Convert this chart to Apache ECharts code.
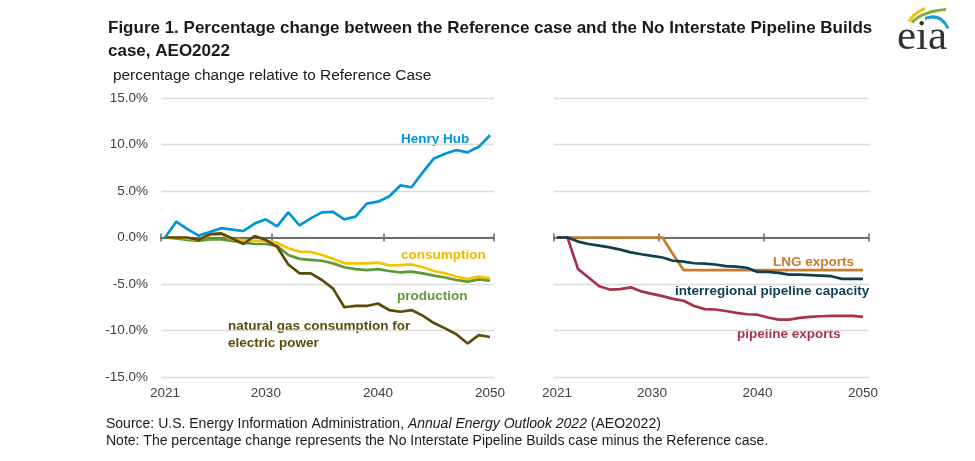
<!DOCTYPE html>
<html>
<head>
<meta charset="utf-8">
<script src="https://cdn.jsdelivr.net/npm/echarts@6/dist/echarts.min.js"></script>
<style>
html,body{margin:0;padding:0;background:#fff;}
#chart{width:975px;height:461px;}
</style>
</head>
<body>
<div id="chart"></div>
<script>
// ---- data ----
const years = [];
for (let y = 2021; y <= 2050; y++) years.push(y);

const henryHub = [0.0,1.7,0.9,0.2,0.6,1.0,0.85,0.7,1.5,1.95,1.2,2.7,1.3,2.05,2.7,2.75,1.95,2.25,3.65,3.85,4.4,5.6,5.4,7.0,8.5,9.0,9.4,9.15,9.75,11.0];
const consumption = [0.0,0.0,-0.1,-0.27,0.27,0.34,-0.2,-0.27,-0.34,-0.37,-0.55,-1.16,-1.52,-1.56,-1.88,-2.3,-2.78,-2.78,-2.78,-2.7,-3.0,-2.96,-2.9,-3.2,-3.6,-3.85,-4.2,-4.46,-4.2,-4.4];
const production = [0.0,-0.1,-0.27,-0.37,-0.2,-0.2,-0.37,-0.55,-0.7,-0.7,-0.9,-1.88,-2.3,-2.4,-2.5,-2.78,-3.2,-3.4,-3.5,-3.4,-3.6,-3.75,-3.67,-3.85,-4.1,-4.3,-4.57,-4.75,-4.5,-4.64];
const electricPower = [0.0,0.0,0.0,-0.27,0.37,0.45,-0.1,-0.7,0.16,-0.27,-1.0,-2.9,-3.85,-3.85,-4.57,-5.5,-7.5,-7.36,-7.36,-7.1,-7.8,-7.98,-7.8,-8.4,-9.2,-9.77,-10.4,-11.4,-10.5,-10.7];

const lngExports = [0,0,0,0,0,0,0,0,0,0,0,-1.8,-3.5,-3.5,-3.5,-3.5,-3.5,-3.5,-3.5,-3.5,-3.5,-3.5,-3.5,-3.5,-3.5,-3.5,-3.5,-3.5,-3.5,-3.5];
const interregional = [0,0,-0.44,-0.7,-0.88,-1.06,-1.3,-1.6,-1.8,-1.97,-2.15,-2.5,-2.6,-2.77,-2.8,-2.9,-3.07,-3.14,-3.25,-3.7,-3.7,-3.8,-4.0,-4.0,-4.05,-4.1,-4.16,-4.45,-4.45,-4.45];
const pipelineExports = [0,0,-3.4,-4.3,-5.25,-5.6,-5.55,-5.36,-5.8,-6.06,-6.3,-6.6,-6.8,-7.37,-7.7,-7.74,-7.9,-8.1,-8.25,-8.3,-8.6,-8.83,-8.83,-8.65,-8.54,-8.47,-8.43,-8.43,-8.43,-8.54];

const xTickLabels = [2021, 2030, 2040, 2050];

const titleText = 'Figure 1. Percentage change between the Reference case and the No Interstate Pipeline Builds\ncase, AEO2022';
const unitText = 'percentage change relative to Reference Case';
const sourceText = 'Source: U.S. Energy Information Administration, ';
const sourceItalic = 'Annual Energy Outlook 2022';
const sourceTail = ' (AEO2022)';
const noteText = 'Note: The percentage change represents the No Interstate Pipeline Builds case minus the Reference case.';

// ---- styles ----
const C = {
  hh: '#0096d7', cons: '#f7c200', prod: '#5b9a34', elec: '#5e4a09',
  lng: '#c77c2a', inter: '#0f3d52', pipe: '#a7334a'
};
const toPairs = arr => arr.map((v, i) => [years[i], v]);

const L = {min: 2020.64, max: 2050.36};
const R = {min: 2020.72, max: 2050.57};

function labelAxis(gi, r) {
  return {
    type: 'value', gridIndex: gi, min: r.min, max: r.max, position: 'bottom',
    axisLine: {show: false, onZero: false}, axisTick: {show: false}, splitLine: {show: false},
    axisLabel: {
      customValues: xTickLabels, formatter: v => String(v), margin: 9,
      fontFamily: 'Liberation Sans', fontSize: 13.5, color: '#404040'
    }
  };
}
function zeroAxis(gi, r, pos, ticks, yIdx) {
  return {
    type: 'value', gridIndex: gi, min: r.min, max: r.max, position: pos,
    axisLine: {show: true, onZero: true, onZeroAxisIndex: yIdx, lineStyle: {color: '#666', width: 1.5}},
    axisTick: {show: true, customValues: ticks, length: 4, lineStyle: {color: '#666', width: 1.5}},
    axisLabel: {show: false}, splitLine: {show: false}
  };
}
function yAxis(gi, showLabels, visible) {
  return {
    type: 'value', gridIndex: gi, min: -15, max: 15, interval: 5,
    axisLine: {show: false}, axisTick: {show: false},
    splitLine: {show: visible, lineStyle: {color: '#dcdcdc', width: 1.3}},
    axisLabel: {
      show: showLabels, margin: 13, fontFamily: 'Liberation Sans', fontSize: 13.5, color: '#404040',
      formatter: v => v.toFixed(1) + '%'
    }
  };
}
function line(name, data, color, xi, yi) {
  return {
    name, type: 'line', data: toPairs(data), xAxisIndex: xi, yAxisIndex: yi,
    showSymbol: false, symbol: 'none', lineStyle: {color, width: 2.7}, z: 3, animation: false
  };
}
function label(text, x, y, color) {
  return {
    type: 'text', left: x, top: y,
    style: {text, fill: color, font: 'bold 13.5px "Liberation Sans", Arial, sans-serif', lineHeight: 17}
  };
}

const chart = echarts.init(document.getElementById('chart'), null, {renderer: 'canvas'});
chart.setOption({
  animation: false,
  backgroundColor: '#fff',
  grid: [
    {left: 161, top: 98, width: 333, height: 279, containLabel: false},
    {left: 554, top: 98, width: 315, height: 279, containLabel: false}
  ],
  xAxis: [
    labelAxis(0, L),
    zeroAxis(0, L, 'bottom', [L.min, 2030.5, 2040.5, L.max], 0),
    zeroAxis(0, L, 'top', [L.min, 2030.5, 2040.5, L.max], 2),
    labelAxis(1, R),
    zeroAxis(1, R, 'bottom', [R.min, 2030.6, 2040.6, R.max], 1),
    zeroAxis(1, R, 'top', [R.min, 2030.6, 2040.6, R.max], 3)
  ],
  yAxis: [yAxis(0, true, true), yAxis(1, false, true), yAxis(0, false, false), yAxis(1, false, false)],
  series: [
    line('production', production, C.prod, 0, 0),
    line('consumption', consumption, C.cons, 0, 0),
    line('natural gas consumption for electric power', electricPower, C.elec, 0, 0),
    line('Henry Hub', henryHub, C.hh, 0, 0),
    line('pipeline exports', pipelineExports, C.pipe, 3, 1),
    line('LNG exports', lngExports, C.lng, 3, 1),
    line('interregional pipeline capacity', interregional, C.inter, 3, 1)
  ],
  graphic: [
    {type: 'text', left: 108, top: 17, style: {text: titleText, fill: '#1a1a1a',
      font: 'bold 17px "Liberation Sans", Arial, sans-serif', lineHeight: 23}},
    {type: 'text', left: 113, top: 68, style: {text: unitText, fill: '#1a1a1a',
      font: '15.4px "Liberation Sans", Arial, sans-serif'}},
    {type: 'text', left: 106, top: 415, style: {
      text: '{n|' + sourceText + '}{i|' + sourceItalic + '}{n|' + sourceTail + '}\n{n|' + noteText + '}',
      lineHeight: 17.5,
      rich: {
        n: {fill: '#1a1a1a', font: '14px "Liberation Sans", sans-serif', lineHeight: 17.5},
        i: {fill: '#1a1a1a', font: 'italic 14px "Liberation Sans", sans-serif', lineHeight: 17.5}
      }}},
    label('Henry Hub', 401, 131, C.hh),
    label('consumption', 401, 247, '#f0b800'),
    label('production', 397, 288, C.prod),
    label('natural gas consumption for\nelectric power', 228, 318, C.elec),
    label('LNG exports', 773, 254, C.lng),
    label('interregional pipeline capacity', 675, 283, C.inter),
    label('pipeline exports', 737, 326, C.pipe),
    // eia logo
    {type: 'group', left: 897, top: 6, children: [
      {type: 'bezierCurve', shape: {x1: 15, y1: 18, cpx1: 19, cpy1: 10, x2: 31, y2: 5},
        style: {stroke: '#f2c51c', lineWidth: 3, fill: null}},
      {type: 'bezierCurve', shape: {x1: 18, y1: 19, cpx1: 28, cpy1: 8, x2: 52, y2: 6},
        style: {stroke: '#7bb33a', lineWidth: 3, fill: null}},
      {type: 'bezierCurve', shape: {x1: 31, y1: 15, cpx1: 47, cpy1: 9, x2: 54, y2: 25},
        style: {stroke: '#1a9ad6', lineWidth: 3, fill: null}},
      {type: 'text', left: 3, top: 13, style: {text: 'eia', fill: '#333',
        font: '43px "Liberation Serif", "DejaVu Serif", serif'}}
    ]}
  ]
});
</script>
</body>
</html>
